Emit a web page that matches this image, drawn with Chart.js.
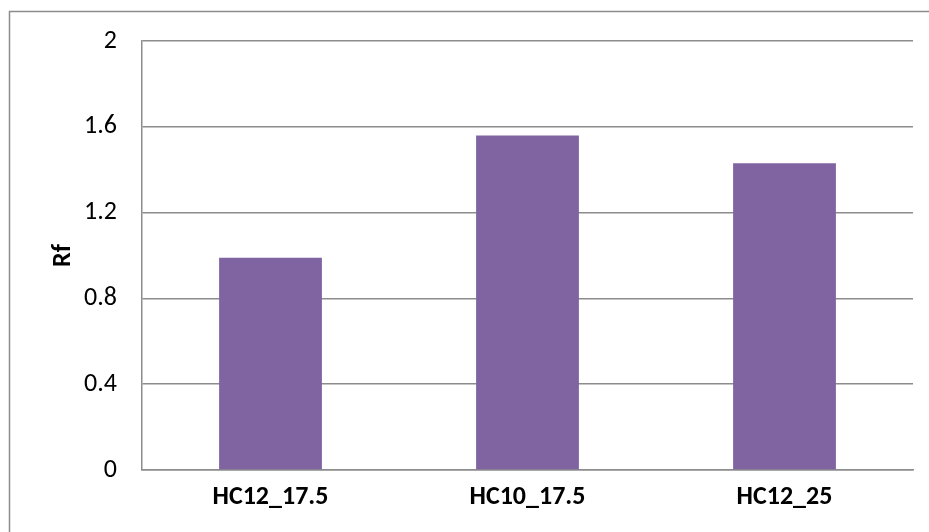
<!DOCTYPE html>
<html>
<head>
<meta charset="utf-8">
<script src="https://cdn.jsdelivr.net/npm/chart.js@4"></script>
<style>
  html, body { margin: 0; padding: 0; background: #fff; }
  #wrap { width: 929px; height: 532px; position: relative; }
</style>
</head>
<body>
<div id="wrap"><canvas id="canvas" width="929" height="532"></canvas></div>
<script>
"use strict";

var labels = ['HC12_17.5', 'HC10_17.5', 'HC12_25'];
var rfValues = [0.99, 1.56, 1.43];
var yTicks = [0, 0.4, 0.8, 1.2, 1.6, 2];

var fontFamily = "Carlito, Calibri, Lato, 'Open Sans', sans-serif";

// outer frame around the whole chart
var frame = {
  id: 'frame',
  beforeDraw: function(chart) {
    var c = chart.ctx;
    c.save();
    c.fillStyle = '#fff';
    c.fillRect(0, 0, chart.width, chart.height);
    c.strokeStyle = '#8c8c8c';
    c.lineWidth = 1.5;
    c.strokeRect(9.5, 11.5, 1000, 1000);
    c.restore();
  }
};

window.onload = function() {
  var ctx = document.getElementById('canvas').getContext('2d');
  window.myBar = new Chart(ctx, {
    type: 'bar',
    data: {
      labels: labels,
      datasets: [{
        label: 'Rf',
        data: rfValues,
        backgroundColor: '#8064a2',
        borderWidth: 0,
        barPercentage: 0.4,
        categoryPercentage: 1
      }]
    },
    options: {
      responsive: false,
      animation: false,
      layout: { padding: { left: 0, top: 41, right: 16, bottom: 0 } },
      plugins: {
        legend: { display: false },
        tooltip: { enabled: false }
      },
      scales: {
        x: {
          grid: { display: false, drawTicks: false },
          border: { color: '#8c8c8c', width: 1.5 },
          ticks: {
            color: '#000',
            padding: 12,
            font: { family: fontFamily, size: 26, weight: 'bold' }
          },
          afterFit: function(scale) { scale.height = 62; }
        },
        y: {
          min: 0,
          max: 2,
          afterBuildTicks: function(scale) {
            scale.ticks = yTicks.map(function(v) { return { value: v }; });
          },
          grid: { color: '#8c8c8c', lineWidth: 1.5, drawTicks: false },
          border: { color: '#8c8c8c', width: 1.5 },
          ticks: {
            color: '#000',
            padding: 25,
            font: { family: fontFamily, size: 26 },
            callback: function(v) { return String(v); }
          },
          title: {
            display: true,
            text: 'Rf',
            color: '#000',
            padding: { top: 48, bottom: 0 },
            font: { family: fontFamily, size: 26, weight: 'bold' }
          },
          afterFit: function(scale) { scale.width = 142; }
        }
      }
    },
    plugins: [frame]
  });
};
</script>
</body>
</html>
